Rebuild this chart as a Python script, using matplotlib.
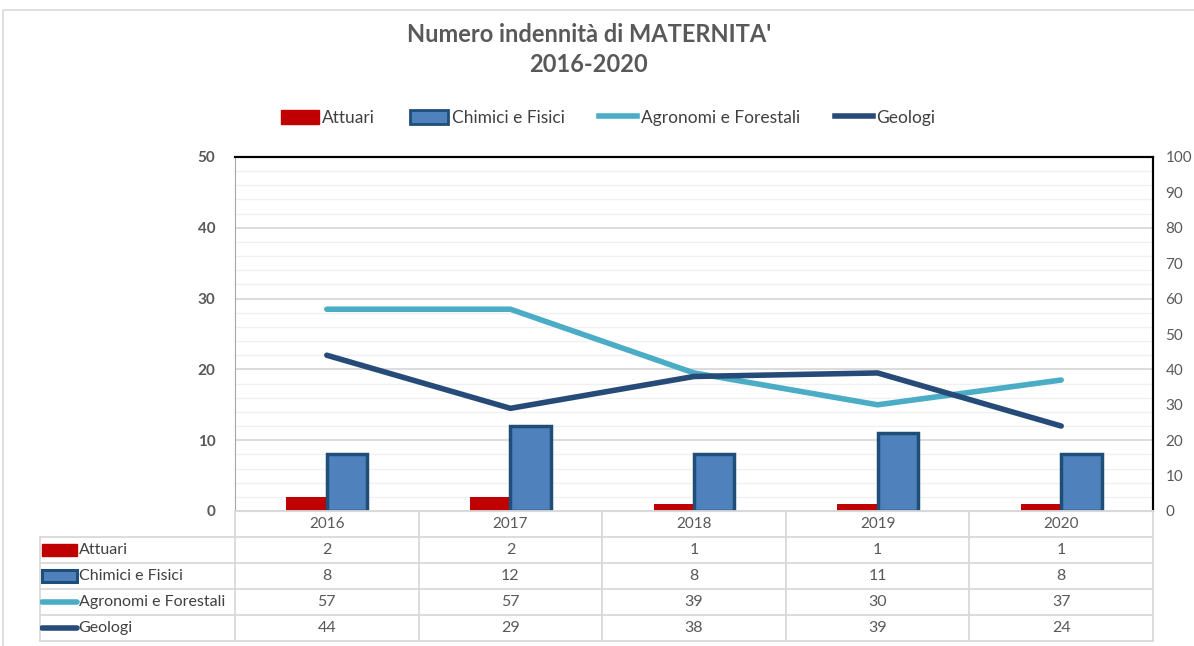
import numpy as np
import matplotlib
matplotlib.use("Agg")
import matplotlib.pyplot as plt
from matplotlib.patches import Rectangle
from matplotlib.lines import Line2D

plt.rcParams["font.family"] = ["Lato", "DejaVu Sans"]

# data
years = ["2016", "2017", "2018", "2019", "2020"]
attuari = [2, 2, 1, 1, 1]
chimici = [8, 12, 8, 11, 8]
agronomi = [57, 57, 39, 30, 37]
geologi = [44, 29, 38, 39, 24]
series_names = ["Attuari", "Chimici e Fisici", "Agronomi e Forestali", "Geologi"]

RED = "#C00000"
BLUE = "#4F81BD"
BLUE_EDGE = "#1F4E79"
LIGHT = "#4BACC6"
DARK = "#264B78"
TXT = "#595959"
GRID = "#D9D9D9"

W, H = 1194, 646
fig = plt.figure(figsize=(W / 100, H / 100), dpi=100)

def px_box(x0, y0, x1, y1):
    return [x0 / W, 1 - y1 / H, (x1 - x0) / W, (y1 - y0) / H]

# outer chart frame
fig.patches.append(Rectangle((3 / W, -0.1), 1.2, 1 - 10 / H + 0.1, transform=fig.transFigure,
                             fill=False, edgecolor="#D9D9D9", linewidth=1.2))

# main plot
ax = fig.add_axes(px_box(235, 157, 1153, 511))
x = np.arange(len(years))
bw = 0.22
ax.bar(x - bw / 2, attuari, width=bw, color=RED, zorder=3)
ax.bar(x + bw / 2, chimici, width=bw, color=BLUE, edgecolor=BLUE_EDGE, linewidth=2.5, zorder=3)
ax.set_xlim(-0.5, len(years) - 0.5)
ax.set_ylim(0, 50)
ax.set_yticks(np.arange(0, 51, 10))
ax.set_yticks(np.arange(0, 51, 2), minor=True)
ax.grid(axis="y", which="major", color=GRID, linewidth=1.3, zorder=0)
ax.grid(axis="y", which="minor", color="#F0F0F0", linewidth=1.0, zorder=0)
ax.set_axisbelow(True)
ax.set_xticks([])
ax.tick_params(axis="y", which="both", length=0, pad=14, labelsize=11, labelcolor=TXT)
for lab in ax.get_yticklabels():
    lab.set_fontweight("bold")
ax.spines["left"].set_color("#A6A6A6")
ax.spines["bottom"].set_color(GRID)
ax.spines["top"].set_color("black")
ax.spines["top"].set_linewidth(1.5)
ax.spines["right"].set_color("black")
ax.spines["right"].set_linewidth(1.5)

ax2 = ax.twinx()
ax2.plot(x, agronomi, color=LIGHT, linewidth=4, solid_capstyle="round", solid_joinstyle="round")
ax2.plot(x, geologi, color=DARK, linewidth=4, solid_capstyle="round", solid_joinstyle="round")
ax2.set_ylim(0, 100)
ax2.set_yticks(np.arange(0, 101, 10))
ax2.tick_params(axis="y", length=0, pad=9, labelsize=11, labelcolor=TXT)
for s in ["left", "bottom"]:
    ax2.spines[s].set_visible(False)
ax2.spines["top"].set_color("black")
ax2.spines["top"].set_linewidth(1.5)
ax2.spines["right"].set_color("black")
ax2.spines["right"].set_linewidth(1.5)

# title
fig.text(589 / W, 1 - 35 / H, "Numero indennità di MATERNITA'", ha="center", va="center",
         fontsize=17, fontweight="bold", color=TXT)
fig.text(589 / W, 1 - 65 / H, "2016-2020", ha="center", va="center",
         fontsize=17, fontweight="bold", color=TXT)

# legend
handles = [
    Rectangle((0, 0), 1, 1, facecolor=RED, edgecolor=RED),
    Rectangle((0, 0), 1, 1, facecolor=BLUE, edgecolor=BLUE_EDGE, linewidth=2),
    Line2D([], [], color=LIGHT, linewidth=4),
    Line2D([], [], color=DARK, linewidth=4),
]
fig.legend(handles, series_names, loc="center", bbox_to_anchor=(608 / W, 1 - 118 / H), ncol=4,
           frameon=False, fontsize=12.5, labelcolor="#404040", handlelength=2.2,
           handleheight=0.9, handletextpad=0.2, columnspacing=2.0)

# data table
lab_w = 195 / 183.6
tab = fig.add_axes(px_box(40, 511, 1153, 641))
tab.set_xlim(-0.5 - lab_w, len(years) - 0.5)
tab.set_ylim(len(series_names) + 1, 0)
tab.axis("off")
left = -0.5 - lab_w
right = len(years) - 0.5
nrows = len(series_names) + 1
for r in range(nrows + 1):
    x0 = -0.5 if r == 0 else left
    tab.plot([x0, right], [r, r], color=GRID, linewidth=1.3, clip_on=False)
for c in range(len(years) + 1):
    tab.plot([c - 0.5, c - 0.5], [0, nrows], color=GRID, linewidth=1.3, clip_on=False)
tab.plot([left, left], [1, nrows], color=GRID, linewidth=1.3, clip_on=False)
for i, yr in enumerate(years):
    tab.text(i, 0.5, yr, ha="center", va="center", fontsize=11, color=TXT)
rows = [attuari, chimici, agronomi, geologi]
for r, (name, vals) in enumerate(zip(series_names, rows), start=1):
    for i, v in enumerate(vals):
        tab.text(i, r + 0.5, str(v), ha="center", va="center", fontsize=11.5, color=TXT)
    sx0, sw = left + 0.01, 0.19
    if r == 1:
        tab.add_patch(Rectangle((sx0, r + 0.28), sw, 0.44, facecolor=RED, edgecolor=RED))
    elif r == 2:
        tab.add_patch(Rectangle((sx0, r + 0.28), sw, 0.44, facecolor=BLUE, edgecolor=BLUE_EDGE,
                                linewidth=2.2))
    else:
        col = LIGHT if r == 3 else DARK
        tab.plot([sx0, sx0 + sw], [r + 0.5, r + 0.5], color=col, linewidth=4,
                 solid_capstyle="round")
    tab.text(sx0 + sw + 0.01, r + 0.5, name, ha="left", va="center", fontsize=11.5, color="#404040")

fig.savefig("out.png", dpi=100)
